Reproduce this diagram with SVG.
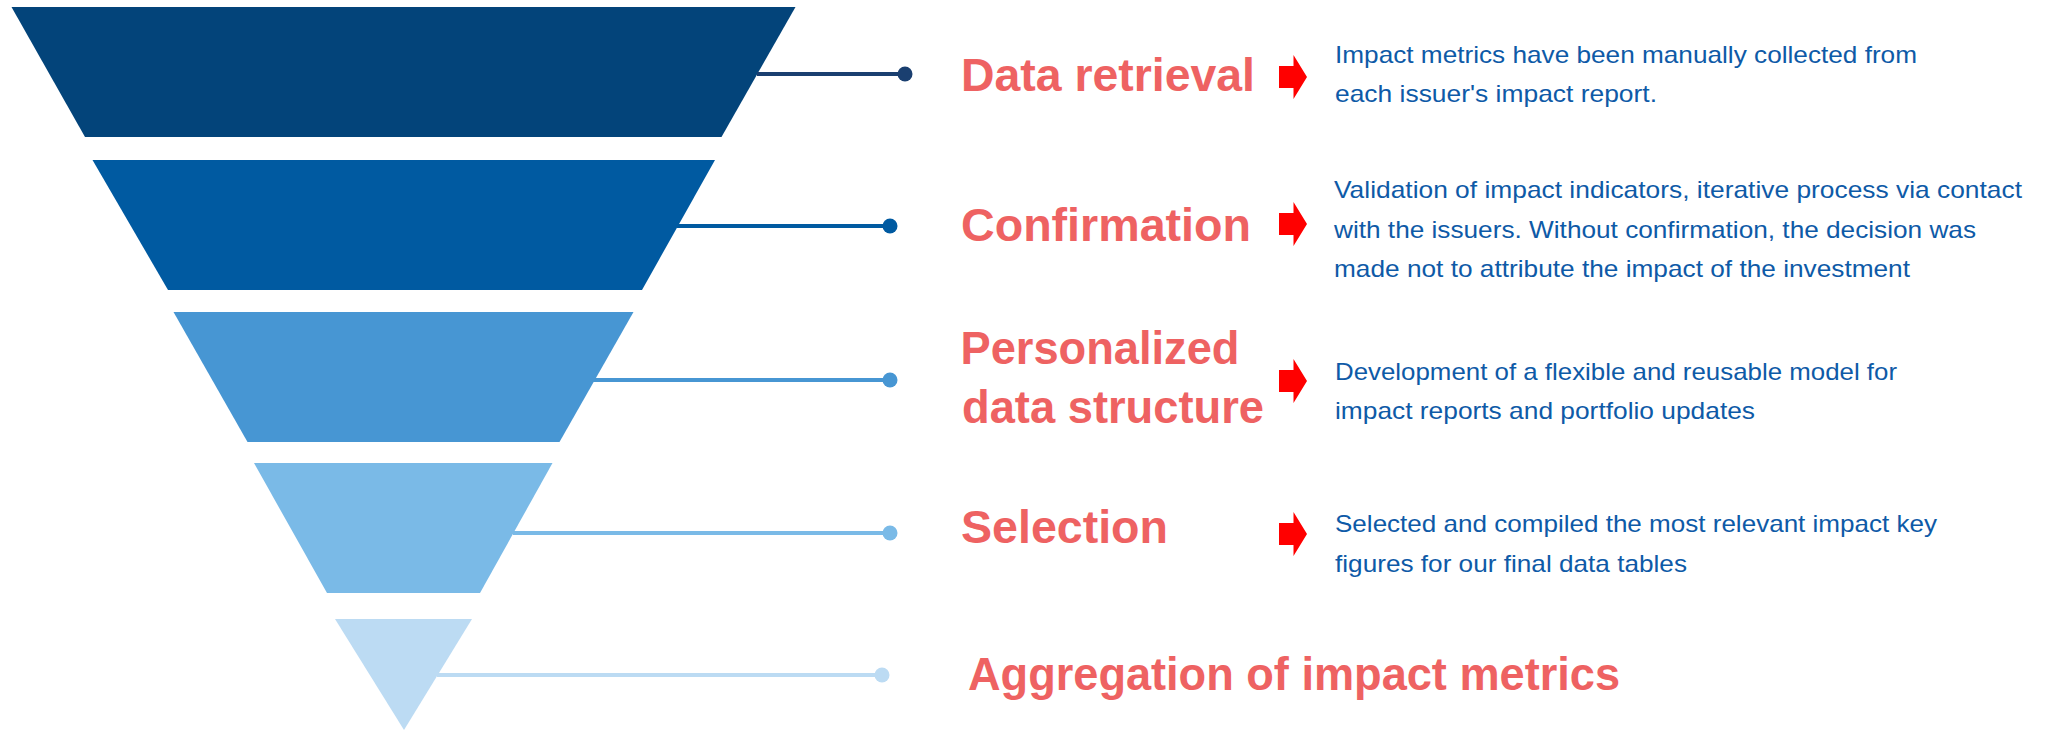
<svg xmlns="http://www.w3.org/2000/svg" width="2052" height="730" viewBox="0 0 2052 730">
  <style>
    .title { font-family: "Liberation Sans", Arial, sans-serif; font-weight: bold; font-size: 46px; fill: #EE6262; }
    .desc { font-family: "Liberation Sans", Arial, sans-serif; font-size: 24px; fill: #0E5AA7; }
    .arrow { fill: #FF0000; }
    .conn { stroke-width: 4; fill: none; }
  </style>
  <defs>
    <path id="redArrow" d="M0,-11 H14.5 V-22 L28,0 L14.5,22 V11 H0 Z"/>
  </defs>
  <rect x="0" y="0" width="2052" height="730" fill="#FFFFFF"/>

  <g id="funnel">
    <g id="stage1"><polygon points="11.5,7 795.5,7 721.5,137 85,137" fill="#03447A"/></g>
    <g id="stage2"><polygon points="92.5,160 715,160 642,290 168,290" fill="#005AA1"/></g>
    <g id="stage3"><polygon points="173.5,312 633.5,312 559.5,442 247.5,442" fill="#4796D3"/></g>
    <g id="stage4"><polygon points="254,463 552.5,463 480,593 327,593" fill="#7ABAE7"/></g>
    <g id="stage5"><polygon points="335,619 472,619 404,730" fill="#BCDBF3"/></g>
  </g>

  <g id="connectors">
    <line class="conn" x1="757" y1="74" x2="905" y2="74" stroke="#1A3F70"/>
    <circle cx="905" cy="74" r="7.5" fill="#1A3F70"/>
    <line class="conn" x1="677" y1="226" x2="890" y2="226" stroke="#005AA1"/>
    <circle cx="890" cy="226" r="7.5" fill="#005AA1"/>
    <line class="conn" x1="593" y1="380" x2="890" y2="380" stroke="#4796D3"/>
    <circle cx="890" cy="380" r="7.5" fill="#4796D3"/>
    <line class="conn" x1="513" y1="533" x2="890" y2="533" stroke="#7ABAE7"/>
    <circle cx="890" cy="533" r="7.5" fill="#7ABAE7"/>
    <line class="conn" x1="437" y1="675" x2="882" y2="675" stroke="#BCDBF3"/>
    <circle cx="882" cy="675" r="7.5" fill="#BCDBF3"/>
  </g>

  <g id="step1">
    <text class="title" x="961" y="91" textLength="294" lengthAdjust="spacingAndGlyphs">Data retrieval</text>
    <use href="#redArrow" class="arrow" x="1279" y="77"/>
    <text class="desc" x="1335" y="63" textLength="582" lengthAdjust="spacingAndGlyphs">Impact metrics have been manually collected from</text>
    <text class="desc" x="1335" y="102" textLength="322" lengthAdjust="spacingAndGlyphs">each issuer's impact report.</text>
  </g>

  <g id="step2">
    <text class="title" x="961" y="241" textLength="290" lengthAdjust="spacingAndGlyphs">Confirmation</text>
    <use href="#redArrow" class="arrow" x="1279" y="224"/>
    <text class="desc" x="1334" y="198" textLength="688" lengthAdjust="spacingAndGlyphs">Validation of impact indicators, iterative process via contact</text>
    <text class="desc" x="1334" y="238" textLength="642" lengthAdjust="spacingAndGlyphs">with the issuers. Without confirmation, the decision was</text>
    <text class="desc" x="1334" y="277" textLength="576" lengthAdjust="spacingAndGlyphs">made not to attribute the impact of the investment</text>
  </g>

  <g id="step3">
    <text class="title" x="960.5" y="364" textLength="279" lengthAdjust="spacingAndGlyphs">Personalized</text>
    <text class="title" x="962" y="423" textLength="302" lengthAdjust="spacingAndGlyphs">data structure</text>
    <use href="#redArrow" class="arrow" x="1279" y="381"/>
    <text class="desc" x="1335" y="380" textLength="562" lengthAdjust="spacingAndGlyphs">Development of a flexible and reusable model for</text>
    <text class="desc" x="1335" y="419" textLength="420" lengthAdjust="spacingAndGlyphs">impact reports and portfolio updates</text>
  </g>

  <g id="step4">
    <text class="title" x="961" y="543" textLength="207" lengthAdjust="spacingAndGlyphs">Selection</text>
    <use href="#redArrow" class="arrow" x="1279" y="534"/>
    <text class="desc" x="1335" y="532" textLength="602" lengthAdjust="spacingAndGlyphs">Selected and compiled the most relevant impact key</text>
    <text class="desc" x="1335" y="572" textLength="352" lengthAdjust="spacingAndGlyphs">figures for our final data tables</text>
  </g>

  <g id="step5">
    <text class="title" x="968" y="690" textLength="652" lengthAdjust="spacingAndGlyphs">Aggregation of impact metrics</text>
  </g>
</svg>
